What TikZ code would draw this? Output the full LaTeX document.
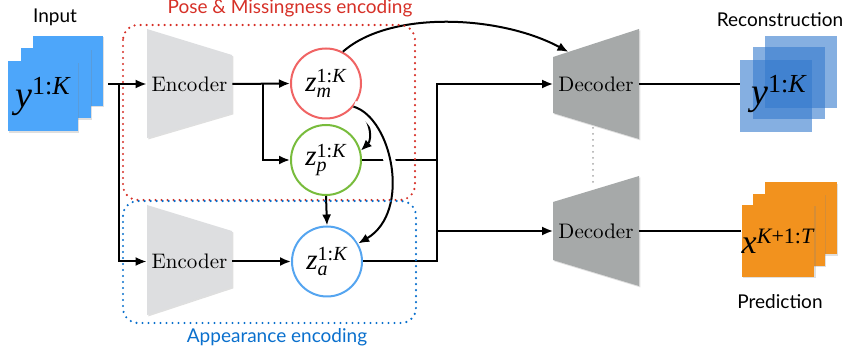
\documentclass[tikz,border=0pt]{standalone}
\usepackage{fontspec}
\newfontfamily\labelfont{Lato}
\newfontfamily\tms{Liberation Serif}
\usetikzlibrary{arrows.meta,shadows,calc}
\definecolor{inblue}{RGB}{77,166,250}
\definecolor{recblue}{RGB}{52,122,205}
\definecolor{predorange}{RGB}{242,146,30}
\definecolor{encgray}{RGB}{221,222,224}
\definecolor{decgray}{RGB}{166,169,169}
\definecolor{posered}{RGB}{214,48,39}
\definecolor{appblue}{RGB}{10,112,205}
\definecolor{zred}{RGB}{240,100,100}
\definecolor{zgreen}{RGB}{120,188,60}
\definecolor{zblue}{RGB}{85,165,240}
\newcommand\tsz[2]{\mbox{\fontsize{#1}{#1}\selectfont\tms #2}}
\tikzset{
  conn/.style={line width=1pt},
  arr/.style={conn,-{Latex[length=5.5pt,width=4.5pt]}},
  zc/.style={circle,minimum size=35pt,inner sep=0pt,line width=1pt,fill=white,font=\fontsize{13}{15}\selectfont},
  codebox/.style={minimum width=42.5pt,minimum height=55pt,inner sep=0pt,font=\fontsize{10.5}{12}\selectfont},
  softshadow/.style={drop shadow={opacity=0.25,shadow xshift=0.7pt,shadow yshift=-0.7pt}},
  sqin/.style={minimum size=35pt,inner sep=0pt,fill=inblue,softshadow},
  sqrec/.style={minimum size=36pt,inner sep=0pt,fill=recblue,fill opacity=0.6},
  sqpred/.style={minimum size=36pt,inner sep=0pt,fill=predorange,softshadow},
  lbl/.style={font=\labelfont\fontsize{9.5}{11}\selectfont},
  dotbox/.style={line width=1.2pt,line cap=round,dash pattern=on 0pt off 3pt,rounded corners=7.5pt}
}
\begin{document}
\begin{tikzpicture}[x=0.5pt,y=-0.5pt]
\useasboundingbox (0,0) rectangle (843,353);
% labels
\node[lbl] (linput) at (55,17) {Input};
\node[lbl,text=posered] (lpose) at (290,8) {Pose \& Missingness encoding};
\node[lbl,text=appblue] (lapp) at (277,337) {Appearance encoding};
\node[lbl] (lrec) at (780,20) {Reconstruction};
\node[lbl] (lpred) at (780,302) {Prediction};
% input stack
\node[sqin] (in3) at (68,71) {};
\node[sqin] (in2) at (56,83.5) {};
\node[sqin,font=\fontsize{17}{20}\selectfont] (in1) at (43,96.5) {$\tsz{19}{\itshape y}^{\tsz{13}{1:\itshape K}}$};
% reconstruction stack
\node[sqrec] (rec3) at (801,72) {};
\node[sqrec] (rec2) at (789,83.5) {};
\node[sqrec] (rec1) at (776,96) {};
\node[font=\fontsize{17}{20}\selectfont] (rectext) at (779,94) {$\tsz{19}{\itshape y}^{\tsz{13}{1:\itshape K}}$};
% prediction stack
\node[sqpred] (pr3) at (801,218.5) {};
\node[sqpred] (pr2) at (789,230) {};
\node[sqpred,font=\fontsize{15}{18}\selectfont] (pr1) at (778,241) {$\tsz{17}{\itshape x}^{\tsz{11}{\itshape K\upshape +1:\itshape T}}$};
% gray dotted link between decoders
\draw[line width=1pt,gray!70,line cap=round,dash pattern=on 0pt off 3pt] (593,128) -- (593,188);
% encoders
\fill[encgray,softshadow] (147,29) -- (232,55) -- (232,113) -- (147,138) -- cycle;
\fill[encgray,softshadow] (147,205) -- (232,231) -- (232,287) -- (147,315) -- cycle;
\node[codebox] (enc1) at (189.5,84) {Encoder};
\node[codebox] (enc2) at (189.5,261.5) {Encoder};
% decoders
\fill[decgray,softshadow] (553,57) -- (639,29) -- (639,139) -- (553,113) -- cycle;
\fill[decgray,softshadow] (553,202) -- (639,176) -- (639,286) -- (553,260) -- cycle;
\node[codebox] (dec1) at (596,84) {Decoder};
\node[codebox] (dec2) at (596,231) {Decoder};
\coordinate (d1tl) at (553,57);
\coordinate (d1tr) at (639,29);
% latent nodes
\node[zc,draw=zred] (zm) at (326,83.5) {$\tsz{14.5}{\itshape z}^{\tsz{10}{1:\itshape K}}_{\tsz{10}{\itshape m}}$};
\node[zc,draw=zgreen] (zp) at (326,160) {$\tsz{14.5}{\itshape z}^{\tsz{10}{1:\itshape K}}_{\tsz{10}{\itshape p}}$};
\node[zc,draw=zblue] (za) at (327,261.5) {$\tsz{14.5}{\itshape z}^{\tsz{10}{1:\itshape K}}_{\tsz{10}{\itshape a}}$};
% junction coordinates
\coordinate (br1) at (119,84);
\coordinate (inout) at (108,84);
\coordinate (br2) at (263,84);
\coordinate (jtop) at (437,84);
\coordinate (jp) at (437,160);
\coordinate (jmid) at (437,231);
% connectors
\draw[arr] (inout) -- (enc1.west);
\draw[arr] (br1) |- (enc2.west);
\draw[arr] (enc1.east) -- (zm.west);
\draw[arr] (br2) |- (zp.west);
\draw[arr] (enc2.east) -- (za.west);
\draw[arr] (zp.south) -- (za.north);
\draw[conn] (zp.east) -- (jp);
\draw[arr] (za.east) -| (jtop) -- (dec1.west);
\draw[arr] (jmid) -- (dec2.west);
\draw[conn] (dec1.east) -- (dec1.east -| rec1.west);
\draw[conn] (dec2.east) -- (dec2.east -| pr1.west);
\draw[arr] (zm.-40) .. controls (372,118) and (372,140) .. (zp.15);
\draw[white,line width=6pt] (zm.-40) .. controls (392,118) and (412,212) .. (za.30);
\draw[arr] (zm.-40) .. controls (392,118) and (412,212) .. (za.30);
\draw[arr] (zm.62) .. controls (390,10) and (500,15) .. ($(d1tl)!0.18!(d1tr)$);
% dotted group boxes
\draw[dotbox,posered] (123,25) rectangle (415,200);
\draw[dotbox,appblue] (123,201) rectangle (416,323);
\end{tikzpicture}
\end{document}
